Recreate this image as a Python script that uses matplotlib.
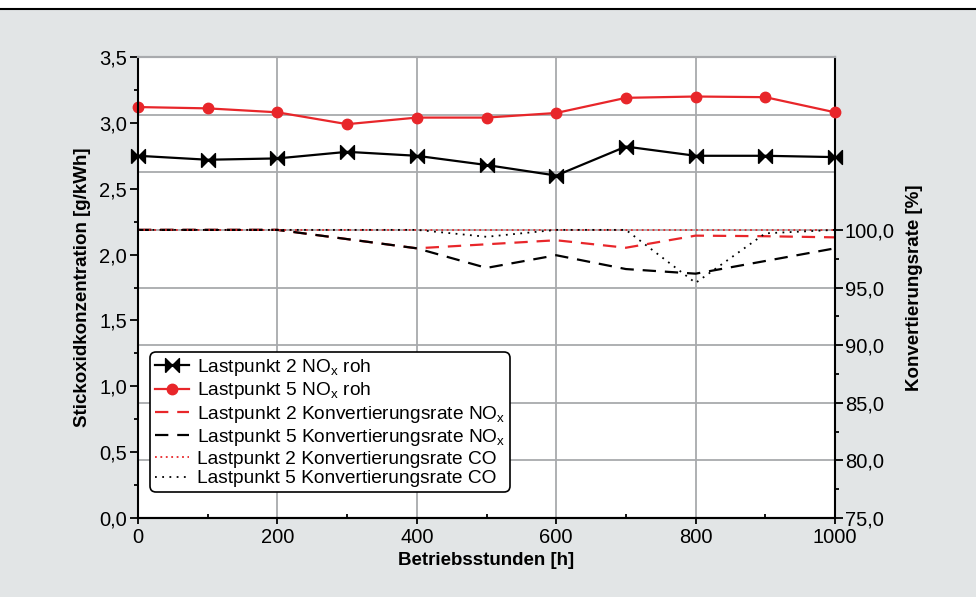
import numpy as np
import matplotlib
matplotlib.use("Agg")
import matplotlib.pyplot as plt
from matplotlib.ticker import FuncFormatter, MultipleLocator
from matplotlib.lines import Line2D
from matplotlib.patches import Rectangle

plt.rcParams['font.family'] = ['Liberation Sans', 'DejaVu Sans']
plt.rcParams['mathtext.fontset'] = 'custom'
plt.rcParams['mathtext.rm'] = 'Liberation Sans'

# Betriebsstunden
hours = [0, 100, 200, 300, 400, 500, 600, 700, 800, 900, 1000]

# NOx roh [g/kWh]
lp2_nox_roh = [2.75, 2.72, 2.73, 2.78, 2.75, 2.68, 2.60, 2.82, 2.75, 2.75, 2.74]
lp5_nox_roh = [3.12, 3.11, 3.08, 2.99, 3.04, 3.04, 3.075, 3.19, 3.20, 3.195, 3.08]

# Konvertierungsraten [%]
lp2_conv_nox = [100, 100, 100, 99.2, 98.4, 98.75, 99.1, 98.45, 99.5, 99.45, 99.35]
lp5_conv_nox = [100, 100, 100, 99.2, 98.4, 96.7, 97.8, 96.6, 96.2, 97.3, 98.4]
lp2_conv_co = [100, 100, 100, 100, 100, 100, 100, 100, 100, 100, 100]
lp5_conv_co = [100, 100, 100, 100, 100, 99.4, 100, 100, 95.4, 99.7, 100]

bg = '#e2e5e6'
grid_c = '#a8aaad'
red = '#e8262a'
sub = '$_\\mathregular{x}$'

fig = plt.figure(figsize=(9.76, 5.97), dpi=100)
fig.patch.set_facecolor(bg)
fig.add_artist(Rectangle((0, 1 - 8 / 597), 1, 8 / 597, transform=fig.transFigure,
                         facecolor='white', edgecolor='none'))
fig.add_artist(Line2D([0, 1], [1 - 8.5 / 597] * 2, transform=fig.transFigure,
                      color='black', lw=1.5))

ax2 = fig.add_axes([138 / 976, 79 / 597, 697 / 976, 461 / 597])
ax = ax2.twinx()  # left axis on top
ax.yaxis.tick_left()
ax.yaxis.set_label_position('left')
ax2.yaxis.tick_right()
ax2.yaxis.set_label_position('right')
ax2.set_facecolor('white')

# grid (right axis based horizontal lines + vertical lines)
for v in [80, 85, 90, 95, 100, 105, 110]:
    ax2.axhline(v, color=grid_c, lw=1.3, zorder=0)
for h in [200, 400, 600, 800]:
    ax2.axvline(h, color=grid_c, lw=1.3, zorder=0)

l3, = ax2.plot(hours, lp2_conv_nox, color=red, ls=(0, (6, 4)), lw=1.6,
               label='Lastpunkt 2 Konvertierungsrate NO' + sub)
l4, = ax2.plot(hours, lp5_conv_nox, color='black', ls=(0, (6, 4)), lw=1.6,
               label='Lastpunkt 5 Konvertierungsrate NO' + sub)
l5, = ax2.plot(hours, lp2_conv_co, color=red, ls=(0, (1, 2)), lw=1.3,
               label='Lastpunkt 2 Konvertierungsrate CO')
l6, = ax2.plot(hours, lp5_conv_co, color='black', ls=(0, (1, 3)), lw=1.3,
               label='Lastpunkt 5 Konvertierungsrate CO')

bowtie = [(-1, -1), (1, 1), (1, -1), (-1, 1), (-1, -1)]
l1, = ax.plot(hours, lp2_nox_roh, color='black', lw=1.6, marker=bowtie,
              markersize=10, label='Lastpunkt 2 NO' + sub + ' roh', clip_on=False)
l2, = ax.plot(hours, lp5_nox_roh, color=red, lw=1.6, marker='o',
              markersize=7.5, label='Lastpunkt 5 NO' + sub + ' roh', clip_on=False)

ax.set_xlim(0, 1000)
ax.set_ylim(0, 3.5)
ax2.set_ylim(75, 115)

comma = FuncFormatter(lambda v, p: f'{v:.1f}'.replace('.', ','))
ax.yaxis.set_major_locator(MultipleLocator(0.5))
ax.yaxis.set_minor_locator(MultipleLocator(0.25))
ax.yaxis.set_major_formatter(comma)
ax2.set_yticks([75, 80, 85, 90, 95, 100])
ax2.set_yticks([77.5, 82.5, 87.5, 92.5, 97.5], minor=True)
ax2.yaxis.set_major_formatter(comma)
ax2.xaxis.set_major_locator(MultipleLocator(200))
ax2.xaxis.set_minor_locator(MultipleLocator(100))

ax.tick_params(axis='y', which='major', direction='out', length=6, width=1.3,
               labelsize=14.5, pad=2)
ax.tick_params(axis='y', which='minor', direction='out', length=3, width=1.3)
ax2.tick_params(axis='y', which='major', direction='out', length=6, width=1.3,
                labelsize=14.5, pad=1)
ax2.tick_params(axis='y', which='minor', direction='out', length=3, width=1.3)
ax2.tick_params(axis='x', which='major', direction='out', length=4, width=1.3,
                labelsize=14.5, pad=3)
ax2.tick_params(axis='x', which='minor', direction='in', length=3, width=1.3)

for a in (ax, ax2):
    for s in ('left', 'right', 'bottom'):
        a.spines[s].set_color('black')
        a.spines[s].set_linewidth(1.5)
    a.spines['top'].set_color(grid_c)
    a.spines['top'].set_linewidth(1.5)
ax.spines['right'].set_visible(False)
ax2.spines['left'].set_visible(False)

ax.set_ylabel('Stickoxidkonzentration [g/kWh]', fontsize=13.5, fontweight='bold',
              labelpad=6)
ax2.set_ylabel('Konvertierungsrate [%]', fontsize=13.5, fontweight='bold', labelpad=8)
ax2.set_xlabel('Betriebsstunden [h]', fontsize=13.5, fontweight='bold', labelpad=4)

leg = ax.legend(handles=[l1, l2, l3, l4, l5, l6], loc='lower left',
                bbox_to_anchor=(0.017, 0.056), fontsize=13.8, frameon=True,
                fancybox=True, edgecolor='black', framealpha=1, numpoints=1,
                handlelength=1.8, handletextpad=0.4, labelspacing=0.12,
                borderpad=0.25, borderaxespad=0)
leg.get_frame().set_linewidth(1.2)
leg.get_frame().set_boxstyle('round', pad=0, rounding_size=0.3)

fig.savefig('out.png', dpi=100, facecolor=fig.get_facecolor())
